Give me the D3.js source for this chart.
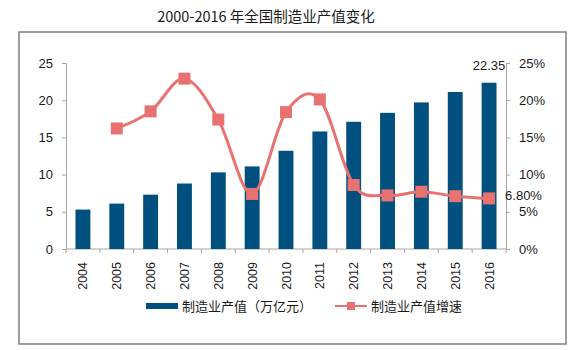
<!DOCTYPE html>
<html>
<head>
<meta charset="utf-8">
<script src="https://cdn.jsdelivr.net/npm/d3@7"></script>
<style>
  body { margin: 0; background: #fff; }
  text { font-family: "Liberation Sans", Arial, sans-serif; fill: #1a1a1a; }
  .cjk { font-family: "Noto Sans CJK SC", sans-serif; }
</style>
</head>
<body>
<svg id="chart"></svg>
<script>
// 数据
const years = ['2004','2005','2006','2007','2008','2009','2010','2011','2012','2013','2014','2015','2016'];
const outputValues = [5.3, 6.1, 7.3, 8.8, 10.3, 11.1, 13.2, 15.8, 17.1, 18.3, 19.7, 21.1, 22.35];
const growthYears = ['2005','2006','2007','2008','2009','2010','2011','2012','2013','2014','2015','2016'];
const growthValues = [16.2, 18.5, 22.9, 17.4, 7.4, 18.4, 20.1, 8.6, 7.2, 7.7, 7.1, 6.8];
const leftTicks = [0, 5, 10, 15, 20, 25];
const rightTicks = [0, 5, 10, 15, 20, 25];

const W = 572, H = 350;
const plot = {left: 66, right: 506, top: 63, bottom: 249};
const barColor = '#00507f';
const lineColor = '#e8726f';
const axisColor = '#a6a6a6';

const svg = d3.select('#chart').attr('width', W).attr('height', H);

// 外框
svg.append('rect')
    .attr('x', 19).attr('y', 32)
    .attr('width', 547).attr('height', 312)
    .attr('fill', 'none').attr('stroke', '#7f7f7f').attr('stroke-width', 1.5);

// 标题
svg.append('text')
    .attr('class', 'cjk')
    .attr('x', 266).attr('y', 22)
    .attr('text-anchor', 'middle')
    .attr('font-size', 14.5)
    .text('2000-2016 年全国制造业产值变化');

const xscale = d3.scaleBand()
    .domain(years)
    .range([plot.left, plot.right])
    .paddingInner(0.56)
    .paddingOuter(0.28);

const yscale = d3.scaleLinear().domain([0, 25]).range([plot.bottom, plot.top]);
const yscale2 = d3.scaleLinear().domain([0, 25]).range([plot.bottom, plot.top]);

// 左轴
const yaxis = d3.axisLeft(yscale).tickValues(leftTicks).tickSize(4).tickPadding(9);
const ygroup = svg.append('g')
    .attr('transform', `translate(${plot.left},0)`)
    .call(yaxis);
ygroup.selectAll('text').attr('font-size', 13).style('fill', '#1a1a1a')
    .style('font-family', '"Liberation Sans", Arial, sans-serif');

// 右轴
const yaxis2 = d3.axisRight(yscale2).tickValues(rightTicks).tickSize(4).tickPadding(9)
    .tickFormat(d => d + '%');
const ygroup2 = svg.append('g')
    .attr('transform', `translate(${plot.right},0)`)
    .call(yaxis2);
ygroup2.selectAll('text').attr('font-size', 13).style('fill', '#1a1a1a')
    .style('font-family', '"Liberation Sans", Arial, sans-serif');

// x轴
const step = xscale.step();
const xgroup = svg.append('g');
xgroup.append('line')
    .attr('x1', plot.left).attr('x2', plot.right)
    .attr('y1', plot.bottom).attr('y2', plot.bottom)
    .attr('stroke', axisColor);
xgroup.selectAll('.xtick')
    .data(years.concat(['end']))
    .enter().append('line')
    .attr('x1', (d, i) => plot.left + i * step)
    .attr('x2', (d, i) => plot.left + i * step)
    .attr('y1', plot.bottom).attr('y2', plot.bottom + 4)
    .attr('stroke', axisColor);
xgroup.selectAll('.xlabel')
    .data(years)
    .enter().append('text')
    .attr('transform', d => `translate(${xscale(d) + xscale.bandwidth() / 2 + 4.5},262) rotate(-90)`)
    .attr('text-anchor', 'end')
    .attr('font-size', 12.5)
    .text(d => d);

[ygroup, ygroup2].forEach(g => {
    g.selectAll('path').attr('stroke', axisColor);
    g.selectAll('line').attr('stroke', axisColor);
});

// 柱
svg.append('g').selectAll('rect')
    .data(outputValues)
    .enter().append('rect')
    .attr('x', (d, i) => xscale(years[i]))
    .attr('y', d => yscale(d))
    .attr('width', xscale.bandwidth())
    .attr('height', d => plot.bottom - yscale(d))
    .attr('fill', barColor);

svg.append('text')
    .attr('x', xscale('2016') + xscale.bandwidth() / 2)
    .attr('y', yscale(outputValues[12]) - 13)
    .attr('text-anchor', 'middle')
    .attr('font-size', 13)
    .text('22.35');

// 折线
const cx = d => xscale(d) + xscale.bandwidth() / 2;
const line = d3.line()
    .x((d, i) => cx(growthYears[i]))
    .y(d => yscale2(d))
    .curve(d3.curveCatmullRom.alpha(0));

svg.append('path')
    .datum(growthValues)
    .attr('d', line)
    .attr('fill', 'none')
    .attr('stroke', lineColor)
    .attr('stroke-width', 3);

const ms = 12;
svg.append('g').selectAll('rect')
    .data(growthValues)
    .enter().append('rect')
    .attr('x', (d, i) => cx(growthYears[i]) - ms / 2)
    .attr('y', d => yscale2(d) - ms / 2)
    .attr('width', ms).attr('height', ms)
    .attr('fill', lineColor);

svg.append('text')
    .attr('x', cx('2016') + 16)
    .attr('y', yscale2(growthValues[11]) + 2)
    .attr('font-size', 13)
    .text('6.80%');

// 图例
const legend = svg.append('g');
legend.append('rect')
    .attr('x', 146).attr('y', 303).attr('width', 32).attr('height', 6)
    .attr('fill', barColor);
legend.append('text')
    .attr('class', 'cjk')
    .attr('x', 182).attr('y', 311)
    .attr('font-size', 13)
    .text('制造业产值（万亿元）');
legend.append('line')
    .attr('x1', 335).attr('x2', 367).attr('y1', 306).attr('y2', 306)
    .attr('stroke', lineColor).attr('stroke-width', 2);
legend.append('rect')
    .attr('x', 347).attr('y', 302).attr('width', 8).attr('height', 8)
    .attr('fill', lineColor);
legend.append('text')
    .attr('class', 'cjk')
    .attr('x', 371).attr('y', 311)
    .attr('font-size', 13)
    .text('制造业产值增速');
</script>
</body>
</html>
